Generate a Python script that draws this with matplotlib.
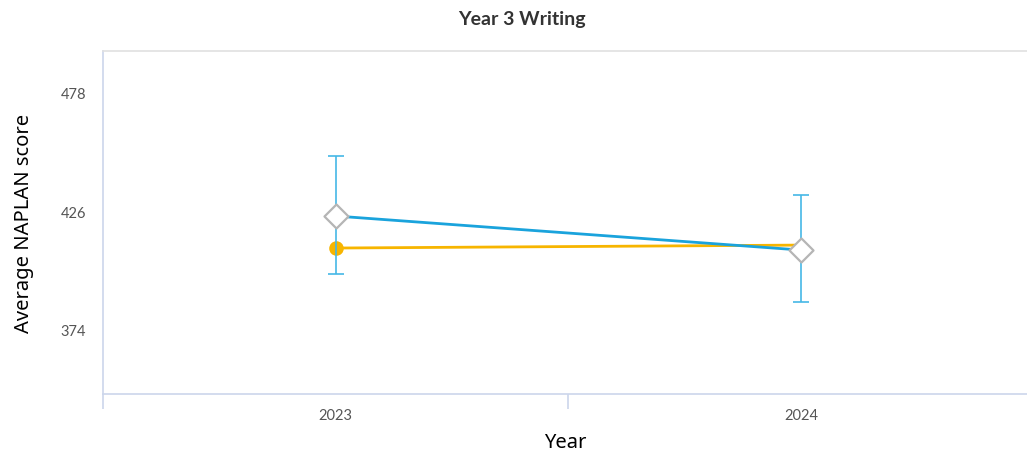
import matplotlib
matplotlib.use("Agg")
import matplotlib.pyplot as plt

# data
years = ["2023", "2024"]
school = [423.8, 408.8]
school_lo = [398.2, 385.9]
school_hi = [450.2, 433.1]
compare = [409.7, 411.0]
y_ticks = [374, 426, 478]

BLUE = "#1aa3dc"
ERR = "#45b8e6"
GOLD = "#f7b500"
GRID = "#ccd6eb"

fig = plt.figure(figsize=(10.27, 4.56), dpi=100)
ax = fig.add_axes([103 / 1027, 1 - 395 / 456, 924 / 1027, 343 / 456])

x = list(range(len(years)))

# yellow series (drawn under the blue)
ax.plot(x, compare, color=GOLD, lw=2, zorder=2)
ax.scatter(x[:1], compare[:1], s=110, color=GOLD, zorder=3, linewidths=0)

# blue series with error bars
yerr = [[s - lo for s, lo in zip(school, school_lo)],
        [hi - s for s, hi in zip(school, school_hi)]]
ax.errorbar(x, school, yerr=yerr, fmt="none", ecolor=ERR, elinewidth=1.2,
            capsize=6, capthick=1.2, zorder=4)
ax.plot(x, school, color=BLUE, lw=2, zorder=5)
ax.scatter(x, school, marker="D", s=150, facecolor="white",
           edgecolor="#b5b5b5", linewidths=1.6, zorder=6)

ax.set_xlim(-0.5, 1.485)
ax.set_ylim(345.4, 496.5)
ax.set_yticks(y_ticks)
ax.set_xticks(x)
ax.set_xticklabels(years)

for lbl in ax.get_xticklabels() + ax.get_yticklabels():
    lbl.set_family("Lato")
    lbl.set_fontsize(10.5)
    lbl.set_color("#555555")

ax.tick_params(axis="y", length=0, pad=12)
ax.tick_params(axis="x", length=0, pad=10)
# minor ticks marking category boundaries on the x axis
ax.set_xticks([-0.5, 0.5], minor=True)
ax.tick_params(axis="x", which="minor", length=11, color=GRID, width=1.2)

for side in ["left", "bottom"]:
    ax.spines[side].set_color(GRID)
    ax.spines[side].set_linewidth(1.2)
ax.spines["top"].set_color("#e0e0e0")
ax.spines["top"].set_linewidth(1.2)
ax.spines["right"].set_visible(False)

ax.set_ylabel("Average NAPLAN score", family="Noto Sans", fontsize=14.5,
              color="black", labelpad=19)
ax.set_xlabel("Year", family="Noto Sans", fontsize=14.5, color="black",
              labelpad=7)

fig.text(0.508, 1 - 20 / 456, "Year 3 Writing", family="Lato",
         fontweight="bold", fontsize=14, color="#333333",
         ha="center", va="center")

fig.savefig("out.png", dpi=100)
